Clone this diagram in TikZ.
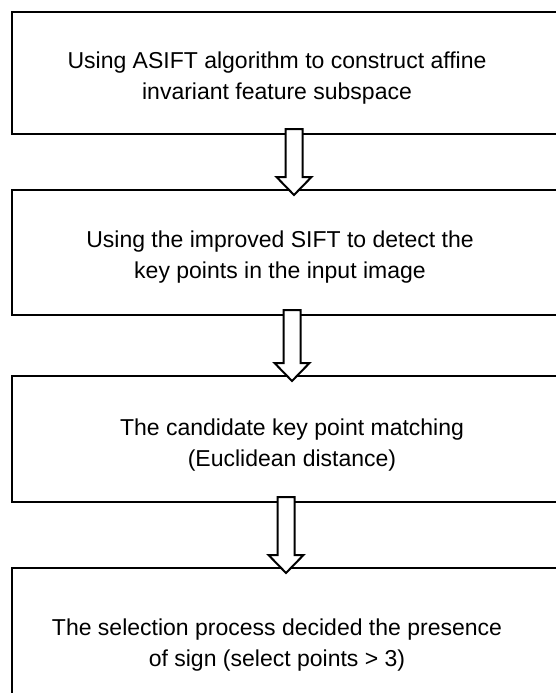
\documentclass[tikz,border=0pt]{standalone}
\usepackage{fontspec}
\setmainfont{Liberation Sans}
\usetikzlibrary{positioning,calc}

% hollow block arrow going down from one box into the next, #3 = x of the shaft
\newcommand{\flowarrow}[3]{%
  \draw[hollow] let \p1=(#1.south), \p2=(#2.north) in
    ({#3pt-8.5pt},{\y1+5pt}) -- ({#3pt-8.5pt},{\y2+13pt})
    -- ({#3pt-17.5pt},{\y2+13pt}) -- ({#3pt},{\y2-5pt})
    -- ({#3pt+17.5pt},{\y2+13pt}) -- ({#3pt+8.5pt},{\y2+13pt})
    -- ({#3pt+8.5pt},{\y1+5pt}) -- cycle;}

\begin{document}
\begin{tikzpicture}[
    x=1pt, y=-1pt,
    stepbox/.style={draw, line width=2.8pt, rectangle, outer sep=0pt, minimum width=560pt, minimum height=#1},
    stepbox/.default={122pt},
    steptext/.style={align=center, inner sep=0pt, font=\fontsize{23}{31}\selectfont},
    hollow/.style={draw, fill=white, line width=2pt, line join=miter},
]
\useasboundingbox (0,0) rectangle (556,693);
\clip (0,0) rectangle (556,693);

% the four steps
\node[stepbox=122pt] (s1) at (292,73) {};
\node[stepbox=125pt] (s2) at (292,252.5) {};
\node[stepbox=126pt] (s3) at (292,439) {};
\node[stepbox=152pt] (s4) at (292,644) {};

\node[steptext] (s1text) at (277,78) {Using ASIFT algorithm to construct affine\\invariant feature subspace};
\node[steptext] (s2text) at (280,257) {Using the improved SIFT to detect the\\key points in the input image};
\node[steptext] (s3text) at (292,445) {The candidate key point matching\\(Euclidean distance)};
\node[steptext] (s4text) at (277,645) {The selection process decided the presence\\of sign (select points > 3)};

% ===== ARROWS =====
\flowarrow{s1}{s2}{294}
\flowarrow{s2}{s3}{292}
\flowarrow{s3}{s4}{286}

\end{tikzpicture}
\end{document}
